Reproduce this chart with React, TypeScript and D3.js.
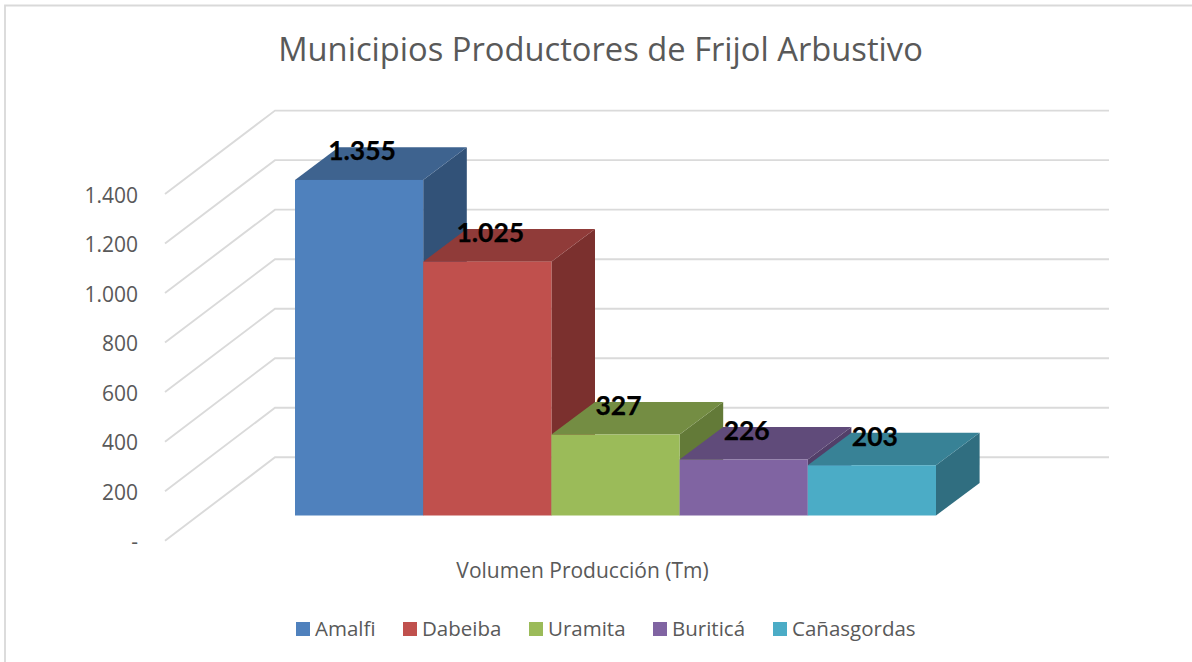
import React from "react";
import * as d3 from "d3";

const categories = ["Amalfi", "Dabeiba", "Uramita", "Buriticá", "Cañasgordas"];
const values = [1355, 1025, 327, 226, 203];
const valueLabels = ["1.355", "1.025", "327", "226", "203"];
const axisTicks = [0, 200, 400, 600, 800, 1000, 1200, 1400];
const axisTickLabels = ["-", "200", "400", "600", "800", "1.000", "1.200", "1.400"];
const frontColors = ["#4F81BD", "#C0504D", "#9BBB59", "#8064A2", "#4BACC6"];
const topColors = ["#3E638F", "#903B39", "#748D43", "#604B7A", "#388296"];
const sideColors = ["#325278", "#7B302E", "#637A38", "#523F69", "#306E80"];

const title = "Municipios Productores de Frijol Arbustivo";
const xAxisTitle = "Volumen Producción (Tm)";

const W = 1192;
const H = 662;
const FLOOR_FRONT_Y = 540.7;
const FLOOR_BACK_Y = 457.3;
const WALL_X = 275;
const AXIS_X = 165;
const GRID_RIGHT = 1109;
const BASE_Y = 515.5;
const DEPTH_X = 43.6;
const DEPTH_Y = -32.6;
const LEGEND_X = [296, 403, 529, 653, 773];

const heightScale = d3.scaleLinear().domain([0, 1400]).range([0, 346.7]);
const x = d3.scaleBand<string>().domain(categories).range([295, 936]).padding(0);

const poly = (pts: [number, number][]) => pts.map((p) => p.join(",")).join(" ");
const font = "'Open Sans', 'Noto Sans', sans-serif";

export default function App() {
  const grid = d3.line<[number, number]>();
  const bw = x.bandwidth();
  return (
    <svg width={W} height={H} style={{ position: "absolute", left: 0, top: 0, background: "#fff" }}>
      <path d={`M5 ${H}V5.5H${W}`} fill="none" stroke="#D9D9D9" strokeWidth={1.8} />
      <text x={600.5} y={61} textAnchor="middle" fontFamily={font} fontSize={32.7} fill="#595959">
        {title}
      </text>
      {axisTicks.map((t, i) => {
        const h = heightScale(t);
        return (
          <g key={t}>
            <path
              d={grid([
                [AXIS_X, FLOOR_FRONT_Y - h],
                [WALL_X, FLOOR_BACK_Y - h],
                [GRID_RIGHT, FLOOR_BACK_Y - h],
              ])!}
              fill="none"
              stroke="#DADADA"
              strokeWidth={1.9}
            />
            <text
              x={138}
              y={FLOOR_FRONT_Y - h + 8.5}
              textAnchor="end"
              fontFamily={font}
              fontSize={21}
              fill="#595959"
            >
              {axisTickLabels[i]}
            </text>
          </g>
        );
      })}
      {categories.map((c, i) => {
        const x0 = x(c)!;
        const x1 = x0 + bw;
        const top = BASE_Y - heightScale(values[i]);
        return (
          <g key={c}>
            <polygon
              points={poly([
                [x1, top],
                [x1 + DEPTH_X, top + DEPTH_Y],
                [x1 + DEPTH_X, BASE_Y + DEPTH_Y],
                [x1, BASE_Y],
              ])}
              fill={sideColors[i]}
            />
            <polygon
              points={poly([
                [x0, top],
                [x1, top],
                [x1 + DEPTH_X, top + DEPTH_Y],
                [x0 + DEPTH_X, top + DEPTH_Y],
              ])}
              fill={topColors[i]}
            />
            <rect x={x0} y={top} width={bw} height={BASE_Y - top} fill={frontColors[i]} />
          </g>
        );
      })}
      {categories.map((c, i) => (
        <text
          key={c}
          x={x(c)! + bw / 2 + 3}
          y={BASE_Y - heightScale(values[i]) - 19.5}
          textAnchor="middle"
          fontFamily="Lato, 'Open Sans', sans-serif"
          fontWeight={700}
          stroke="#000"
          strokeWidth={0.25}
          fontSize={26.5}
          fill="#000"
        >
          {valueLabels[i]}
        </text>
      ))}
      <text x={582.5} y={578} textAnchor="middle" fontFamily={font} fontSize={21} fill="#595959">
        {xAxisTitle}
      </text>
      {categories.map((c, i) => (
        <g key={c}>
          <rect x={LEGEND_X[i]} y={622} width={14} height={14} fill={frontColors[i]} />
          <text x={LEGEND_X[i] + 19} y={636} fontFamily={font} fontSize={20.5} fill="#595959">
            {c}
          </text>
        </g>
      ))}
    </svg>
  );
}
